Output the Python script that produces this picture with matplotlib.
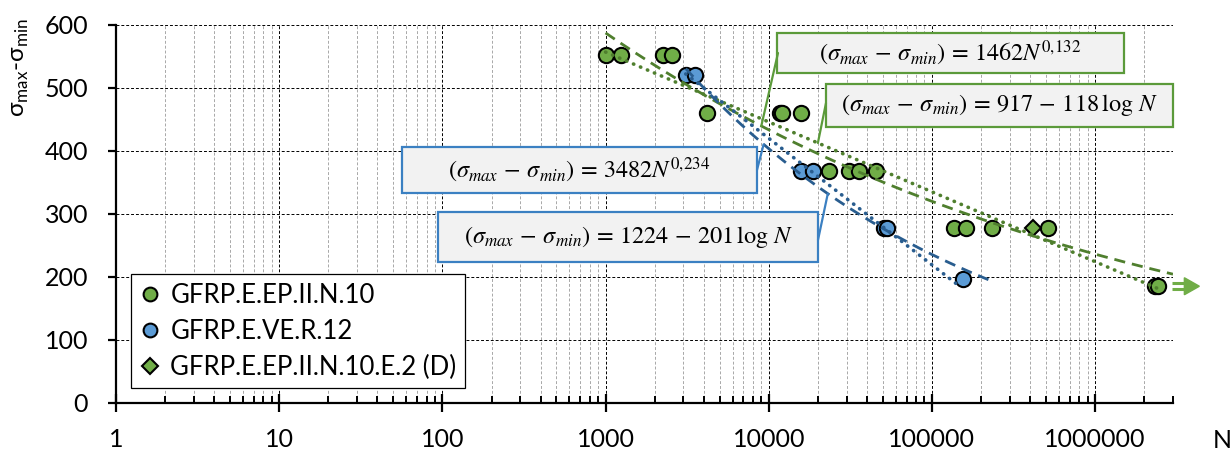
import numpy as np
import matplotlib
matplotlib.use("Agg")
import matplotlib.pyplot as plt
import matplotlib.ticker as mticker
import matplotlib.transforms as mtransforms
from matplotlib.patches import Rectangle, Polygon

plt.rcParams['font.family'] = ['Lato', 'DejaVu Sans']

# ---------------- data ----------------
green_N = [1000, 1250, 2250, 2550, 4200, 11700, 12100, 15700, 23300, 31000, 35600,
           45300, 136000, 162000, 233000, 515000, 2330000, 2440000]
green_S = [552, 552, 552, 552, 460, 460, 460, 460, 368, 368, 368, 368,
           277, 277, 277, 277, 185, 185]
blue_N = [3100, 3520, 15700, 18600, 50800, 53000, 155000]
blue_S = [520, 520, 368, 368, 277, 277, 196]
diam_N = [417000]
diam_S = [277]

series_labels = ["GFRP.E.EP.II.N.10", "GFRP.E.VE.R.12", "GFRP.E.EP.II.N.10.E.2 (D)"]

# trend lines (as drawn): power a*N^-b, log c - d*log10(N)
green_pow = (1462, 0.132)
green_pow_range = (1000, 3000000)
green_log = (890, 111)
green_log_range = (1000, 2540000)
blue_pow = (3482, 0.234)
blue_pow_range = (3100, 240000)
blue_log = (1224, 201)
blue_log_range = (3100, 145000)

eq_texts = [r"$(\sigma_{max}\,-\,\sigma_{min})\,=\,1462N^{0{,}132}$",
            r"$(\sigma_{max}\,-\,\sigma_{min})\,=\,917\,-\,118\,\log\,N$",
            r"$(\sigma_{max}\,-\,\sigma_{min})\,=\,3482N^{0{,}234}$",
            r"$(\sigma_{max}\,-\,\sigma_{min})\,=\,1224\,-\,201\,\log\,N$"]

x_major = [1, 10, 100, 1000, 10000, 100000, 1000000]
y_ticks = [0, 100, 200, 300, 400, 500, 600]

# ---------------- colours ----------------
c_green = '#70AD47'
c_blue = '#5B9BD5'
c_green_line = '#4F7F2E'
c_blue_line = '#295D8F'
c_green_box = '#5B9A3A'
c_blue_box = '#3B80C2'

W, H = 1231, 450
fig = plt.figure(figsize=(W / 100, H / 100), dpi=100)
L, R, B, T = 116, 1173, 402.7, 25
ax = fig.add_axes([L / W, 1 - B / H, (R - L) / W, (B - T) / H])

ax.set_xscale('log')
ax.set_xlim(1, 3000000)
ax.set_ylim(0, 600)

# grid
ax.xaxis.set_major_locator(mticker.FixedLocator(x_major))
ax.xaxis.set_major_formatter(mticker.FuncFormatter(lambda v, p: f"{int(round(v))}"))
ax.xaxis.set_minor_locator(mticker.LogLocator(base=10, subs=range(2, 10), numticks=100))
ax.xaxis.set_minor_formatter(mticker.NullFormatter())
ax.set_yticks(y_ticks)
ax.grid(True, which='major', color='black', linestyle=(0, (3, 2)), linewidth=0.7, zorder=0)
ax.grid(True, which='minor', axis='x', color='#a8a8a8', linestyle=(0, (3, 2)), linewidth=0.7, zorder=0)
ax.set_axisbelow(True)

for s in ['top', 'right']:
    ax.spines[s].set_visible(False)
for s in ['left', 'bottom']:
    ax.spines[s].set_linewidth(1.6)

ax.tick_params(axis='x', which='major', direction='inout', length=13, width=1.6, pad=12, labelsize=18)
ax.tick_params(axis='x', which='minor', direction='in', length=5, width=1.4)
ax.tick_params(axis='y', which='major', direction='out', length=6, width=1.6, pad=14, labelsize=18)

# trend lines
def pow_curve(p, rng):
    n = np.logspace(np.log10(rng[0]), np.log10(rng[1]), 200)
    return n, p[0] * n ** (-p[1])

def log_curve(p, rng):
    n = np.logspace(np.log10(rng[0]), np.log10(rng[1]), 200)
    return n, p[0] - p[1] * np.log10(n)

n, v = pow_curve(green_pow, green_pow_range)
ax.plot(n, v, color=c_green_line, lw=2.0, linestyle=(0, (4, 2.5)), zorder=4)
n, v = log_curve(green_log, green_log_range)
ax.plot(n, v, color=c_green_line, lw=2.6, linestyle=(0, (0.1, 2.0)), dash_capstyle='round', zorder=4)
n, v = pow_curve(blue_pow, blue_pow_range)
ax.plot(n, v, color=c_blue_line, lw=2.0, linestyle=(0, (4, 2.5)), zorder=4)
n, v = log_curve(blue_log, blue_log_range)
ax.plot(n, v, color=c_blue_line, lw=2.6, linestyle=(0, (0.1, 2.0)), dash_capstyle='round', zorder=4)

# markers
h1, = ax.plot(green_N, green_S, linestyle='none', marker='o', ms=11, mfc=c_green, mec='black', mew=1.5,
              zorder=3, label=series_labels[0])
h2, = ax.plot(blue_N, blue_S, linestyle='none', marker='o', ms=11, mfc=c_blue, mec='black', mew=1.5,
              zorder=3, label=series_labels[1])
h3, = ax.plot(diam_N, diam_S, linestyle='none', marker='D', ms=8.5, mfc=c_green, mec='black', mew=1.5,
              zorder=3, label=series_labels[2])

# run-out arrow next to the last green point
fig.canvas.draw()
px, py = ax.transData.transform((green_N[-1], green_S[-1]))
tr = mtransforms.Affine2D().translate(px, py)
for dy in (-3.0, 3.0):
    ax.plot([14, 30], [dy, dy], color=c_green, lw=2.2, transform=tr, clip_on=False, zorder=5,
            solid_capstyle='butt')
ax.add_patch(Polygon([[26, 8.5], [41, 0], [26, -8.5]], closed=True, facecolor=c_green, edgecolor=c_green,
                     transform=tr, clip_on=False, zorder=5))

# equation boxes (pixel rectangles -> axes fraction)
def fx(p):
    return (p - L) / (R - L)

def fy(p):
    return (B - p) / (B - T)

boxes = [((777, 33, 1124, 73), c_green_box, eq_texts[0]),
         ((826, 84, 1173, 127), c_green_box, eq_texts[1]),
         ((402, 147, 757, 193), c_blue_box, eq_texts[2]),
         ((438, 212, 818, 262), c_blue_box, eq_texts[3])]
for (x0, y0, x1, y1), ec, txt in boxes:
    ax.add_patch(Rectangle((fx(x0), fy(y1)), fx(x1) - fx(x0), fy(y0) - fy(y1), transform=ax.transAxes,
                           facecolor='#F2F2F2', edgecolor=ec, lw=1.6, zorder=6, clip_on=False))
    ax.text((fx(x0) + fx(x1)) / 2, (fy(y0) + fy(y1)) / 2, txt, transform=ax.transAxes,
            ha='center', va='center', fontsize=17.5, math_fontfamily='stix', zorder=7)

# leader lines: (start pixel on box, target N on curve, curve)
def gp(nv):
    return green_pow[0] * nv ** (-green_pow[1])

def gl(nv):
    return green_log[0] - green_log[1] * np.log10(nv)

def bp(nv):
    return blue_pow[0] * nv ** (-blue_pow[1])

leaders = [((778, 53), 9000, gp, c_green_box),
           ((826, 103), 20000, gl, c_green_box),
           ((757, 170), 9300, bp, c_blue_box),
           ((818, 240), 23000, bp, c_blue_box)]
for (sx, sy), tn, fn, col in leaders:
    ax.annotate('', xy=(tn, fn(tn)), xytext=(fx(sx), fy(sy)), textcoords='axes fraction',
                arrowprops=dict(arrowstyle='-', color=col, lw=1.6, shrinkA=0, shrinkB=0), zorder=6)

# legend
leg = ax.legend(handles=[h1, h2, h3], loc='lower left', bbox_to_anchor=(fx(131), fy(388)),
                borderaxespad=0, fontsize=18.5, frameon=True, fancybox=False, edgecolor='black',
                framealpha=1, handlelength=0.8, handletextpad=0.4, labelspacing=0.42,
                borderpad=0.33, markerscale=0.9)
leg.get_frame().set_linewidth(0.9)
leg.set_zorder(8)

# axis labels
fig.text(21 / W, 1 - 68 / H, r"σ$_{\mathregular{max}}$-σ$_{\mathregular{min}}$", rotation=90,
         ha='center', va='center', fontsize=17.5)
fig.text(1222 / W, 1 - 440 / H, "N", ha='center', va='center', fontsize=18)

fig.savefig("out.png", dpi=100)
